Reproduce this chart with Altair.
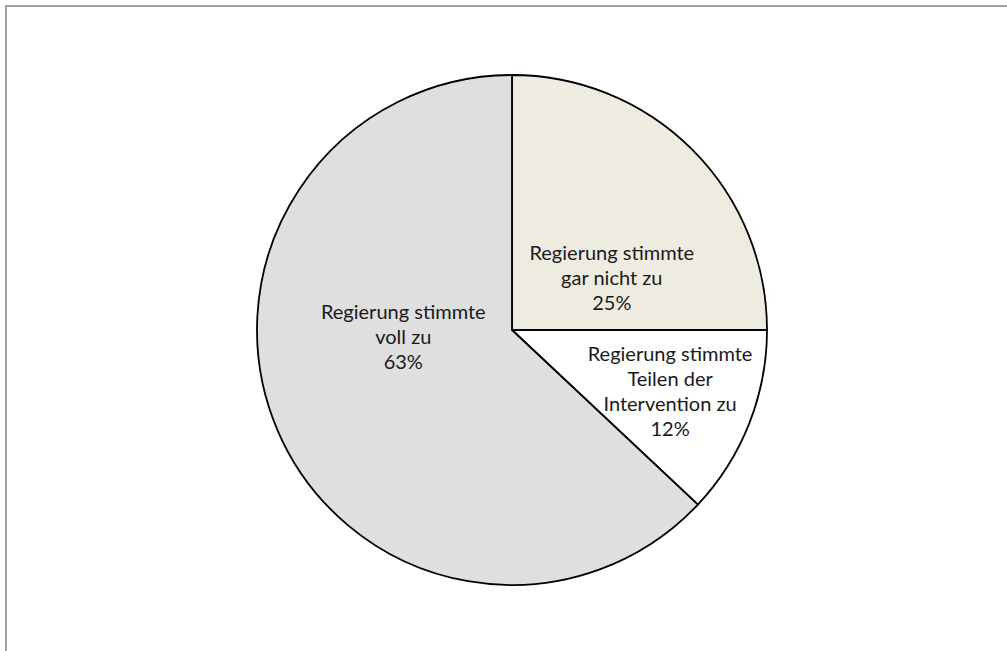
import math
import altair as alt
import pandas as pd

# Survey answers, in the order they are stacked clockwise from 12 o'clock
categories = [
    "gar nicht zu",
    "Teilen der Intervention zu",
    "voll zu",
]
label_lines = [
    ["Regierung stimmte", "gar nicht zu"],
    ["Regierung stimmte", "Teilen der", "Intervention zu"],
    ["Regierung stimmte", "voll zu"],
]
shares = [25, 12, 63]
fills = ["#EEECE1", "#FFFFFF", "#DFDFDF"]

# Label placement inside each slice: angular nudge (degrees) and distance from centre (px)
label_nudge = {"gar nicht zu": 18.0, "Teilen der Intervention zu": 0.0, "voll zu": 19.4}
label_radius = {"gar nicht zu": 112, "Teilen der Intervention zu": 170, "voll zu": 109}

W, H = 1007, 651
CX, CY, R = 512, 330, 255
LINE_H = 25

df = pd.DataFrame({
    "answer": categories,
    "share": shares,
    "rank": list(range(len(categories))),
    "label": ["\n".join(lines + [f"{v}%"]) for lines, v in zip(label_lines, shares)],
    "nlines": [len(lines) + 1 for lines in label_lines],
    "nudge": [math.radians(label_nudge[c]) for c in categories],
    "lr": [label_radius[c] for c in categories],
})

base = alt.Chart(df)

pie = base.mark_arc(stroke="#000000", strokeWidth=1.8, outerRadius=R).encode(
    theta=alt.Theta("share:Q", stack=True),
    order=alt.Order("rank:Q"),
    color=alt.Color("answer:N", scale=alt.Scale(domain=categories, range=fills), legend=None),
    x=alt.value(CX),
    y=alt.value(CY),
)

# Label block centre: polar position from the slice's mid-angle, then moved up so
# the multi-line block (not just its first line) is centred there.
labels = base.transform_joinaggregate(
    total="sum(share)"
).transform_window(
    cum="sum(share)", sort=[alt.SortField("rank")], frame=[None, 0]
).transform_calculate(
    lt="(datum.cum - datum.share / 2) / datum.total * 2 * PI + datum.nudge"
).transform_calculate(
    lx=f"{CX} + datum.lr * sin(datum.lt)",
    ly=f"{CY} - datum.lr * cos(datum.lt) - (datum.nlines - 1) * {LINE_H} / 2",
).mark_text(
    lineBreak="\n", font="Lato", fontSize=20, lineHeight=LINE_H,
    color="#1a1a1a", align="center", baseline="middle",
).encode(
    x=alt.X("lx:Q", scale=None),
    y=alt.Y("ly:Q", scale=None),
    text="label:N",
)

frame_df = pd.DataFrame({"edge": ["top", "left"]})
top_rule = alt.Chart(frame_df).transform_filter("datum.edge == 'top'").mark_rule(
    color="#A0A0A0", strokeWidth=2
).encode(x=alt.value(5), x2=alt.value(W), y=alt.value(6))
left_rule = alt.Chart(frame_df).transform_filter("datum.edge == 'left'").mark_rule(
    color="#A0A0A0", strokeWidth=2
).encode(x=alt.value(6), y=alt.value(5), y2=alt.value(H))

chart = alt.layer(pie, labels, top_rule, left_rule).properties(
    width=W, height=H, padding=0, autosize=alt.AutoSizeParams(type="none"),
    background="#FFFFFF",
).configure_view(stroke=None)

chart.save("out.html", embed_options={"renderer": "svg", "actions": False})
